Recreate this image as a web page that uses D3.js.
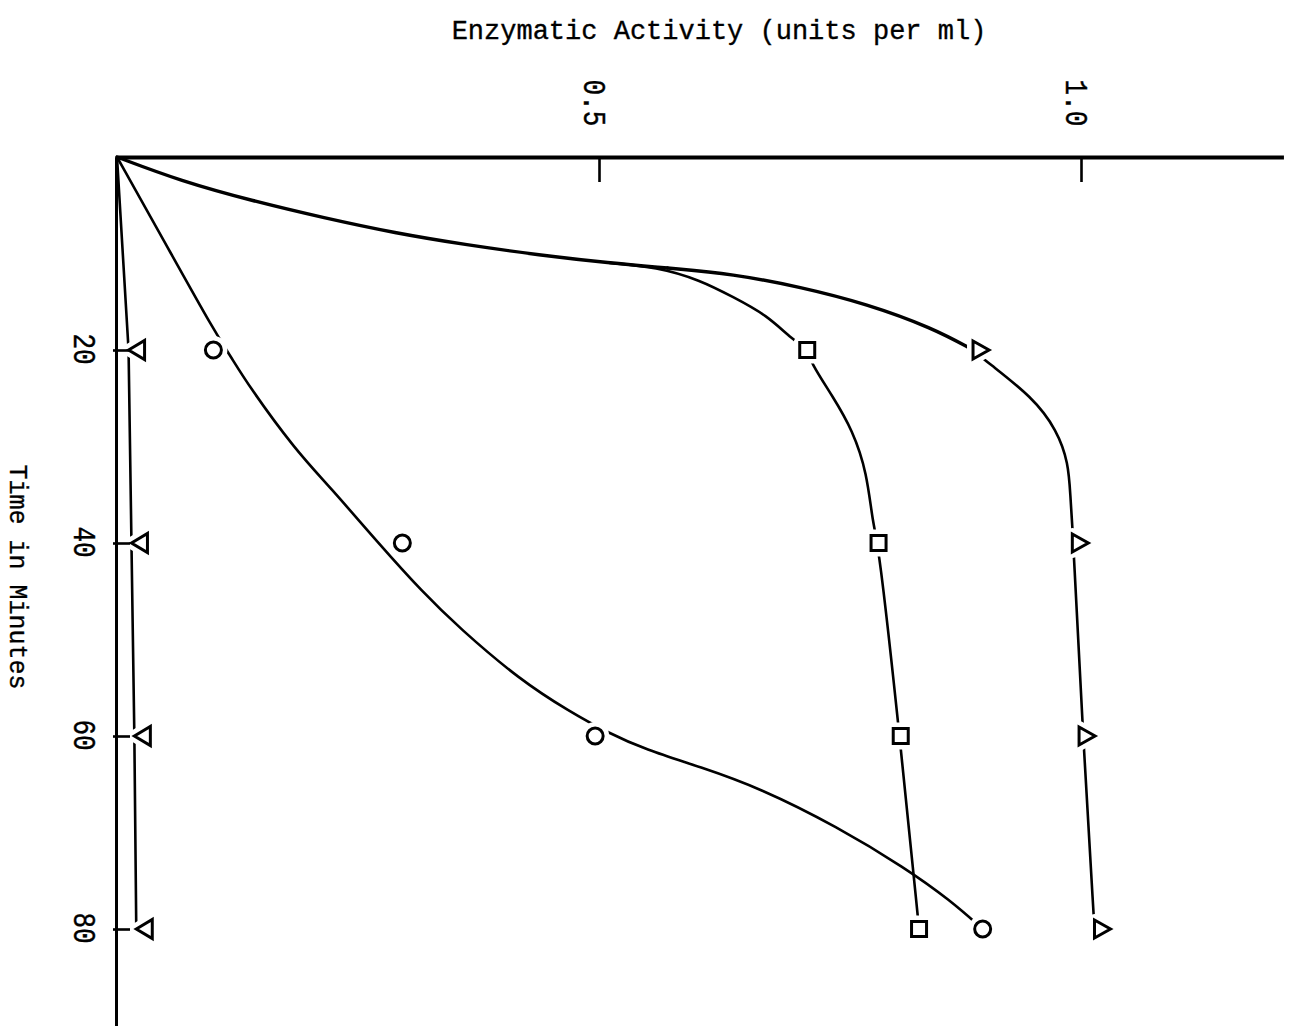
<!DOCTYPE html>
<html>
<head>
<meta charset="utf-8">
<script src="https://cdn.jsdelivr.net/npm/d3@7"></script>
<style>
  html, body { margin: 0; padding: 0; background: #fff; }
  svg { display: block; background: #fff; }
  text { font-family: "Liberation Mono", "DejaVu Sans Mono", monospace; fill: #000; stroke: #000; stroke-width: 0.35; }
</style>
</head>
<body>
<svg id="chart" width="1289" height="1029"></svg>
<script>
// ---- data ----------------------------------------------------------------
const timeTicks = [20, 40, 60, 80];            // minutes
const activityTicks = [0.5, 1.0];              // units per ml
const sampleTimes = [20, 40, 60, 80];

const circleValues = [0.100, 0.296, 0.496, 0.898];
const squareValues = [0.716, 0.790, 0.813, 0.832];
const triangleValues = [0.888, 0.991, 0.998, 1.014];
const invertedTriangleValues = [0.012, 0.015, 0.018, 0.020];

// hand-drawn guide curves, [minutes, activity]
const sharedRise = [[0, 0], [2.49, 0.066], [4.56, 0.141], [6.32, 0.215], [7.88, 0.288],
  [9.12, 0.363], [10.16, 0.438], [10.98, 0.511], [11.5, 0.571]];
const triangleBranch = [[11.5, 0.571], [12.12, 0.639], [13.47, 0.709], [15.23, 0.778],
  [17.72, 0.846], [20.0, 0.888]];
const triangleTail = [[20.0, 0.888], [21.2, 0.902], [24.9, 0.950], [28.3, 0.975],
  [31.7, 0.987], [35.2, 0.989], [38.3, 0.991], [40, 0.992], [60, 1.002], [80, 1.014]];
const squareBranch = [[10.98, 0.511], [11.4, 0.560], [12.75, 0.605], [14.51, 0.639],
  [16.37, 0.674], [18.96, 0.701], [19.8, 0.716], [21.2, 0.719], [24.9, 0.743],
  [28.3, 0.763], [32.7, 0.778], [38.1, 0.784], [40, 0.790], [60, 0.812], [80, 0.832]];
const circleCurve = [[0, 0], [9.1, 0.051], [18.24, 0.102], [20.5, 0.117], [23.63, 0.136],
  [30.36, 0.185], [34.2, 0.221], [40.0, 0.271], [45.1, 0.317], [48.8, 0.355],
  [54.2, 0.418], [57.5, 0.470], [59.6, 0.508], [61.45, 0.549], [63.2, 0.605],
  [65.4, 0.667], [69.4, 0.747], [73.7, 0.818], [77.0, 0.864], [80, 0.898]];

// ---- layout: time runs down the page, activity runs to the right ----------
const svg = d3.select("#chart");
const x = d3.scaleLinear().domain([0, 1.21]).range([117, 117 + 1.21 * 964]);
const y = d3.scaleLinear().domain([0, 90]).range([157, 157 + 90 * 9.65]);

const smooth = d3.line().x(d => x(d[1])).y(d => y(d[0])).curve(d3.curveBasis);
const straight = d3.line().x(d => x(d[1])).y(d => y(d[0]));

// guide curves
const curves = svg.append("g").attr("fill", "none").attr("stroke", "#000")
  .attr("stroke-linecap", "round").attr("stroke-linejoin", "round");
curves.append("path").attr("d", smooth(sharedRise)).attr("stroke-width", 3.4);
curves.append("path").attr("d", smooth(triangleBranch)).attr("stroke-width", 3.4);
curves.append("path").attr("d", smooth(triangleTail)).attr("stroke-width", 2.6);
curves.append("path").attr("d", smooth(squareBranch)).attr("stroke-width", 2.6);
curves.append("path").attr("d", smooth(circleCurve)).attr("stroke-width", 2.6);
const invPts = [[0, 0]].concat(sampleTimes.map((t, i) => [t, invertedTriangleValues[i]]));
curves.append("path").attr("d", straight(invPts)).attr("stroke-width", 2.6);

// marker shapes
const shapes = {
  circle: (px, py) => { const p = d3.path(); p.moveTo(px + 8, py); p.arc(px, py, 8, 0, 2 * Math.PI); p.closePath(); return p.toString(); },
  square: (px, py) => `M${px - 7.5},${py - 7.5}h15v15h-15Z`,
  triangle: (px, py) => `M${px},${py - 9}L${px + 16},${py}L${px},${py + 9}Z`,
  inverted: (px, py) => `M${px},${py}L${px + 16},${py - 9.5}L${px + 16},${py + 9.5}Z`
};
const series = [
  { shape: "circle", values: circleValues },
  { shape: "square", values: squareValues },
  { shape: "triangle", values: triangleValues },
  { shape: "inverted", values: invertedTriangleValues }
];
const markerData = series.flatMap(s => sampleTimes.map((t, i) => ({ shape: s.shape, t, v: s.values[i] })));

// white halos leave small gaps where the curves meet the symbols
svg.append("g").selectAll("path").data(markerData).join("path")
  .attr("d", d => shapes[d.shape](x(d.v), y(d.t)))
  .attr("fill", "#fff").attr("stroke", "#fff").attr("stroke-width", 12)
  .attr("stroke-linejoin", "round");

// activity axis along the top
const xAxis = svg.append("g").attr("transform", `translate(0,${y(0)})`)
  .call(d3.axisBottom(x).tickValues(activityTicks).tickSize(25).tickSizeOuter(0).tickFormat(""));
xAxis.select(".domain").attr("stroke", "#000").attr("stroke-width", 4);
xAxis.selectAll(".tick line").attr("stroke", "#000").attr("stroke-width", 2.6);

// time axis down the left
const yAxis = svg.append("g").attr("transform", `translate(${x(0) - 1},0)`)
  .call(d3.axisRight(y).tickValues(timeTicks).tickSize(14).tickSizeOuter(0).tickFormat(""));
yAxis.select(".domain").attr("stroke", "#000").attr("stroke-width", 3);
yAxis.selectAll(".tick line").attr("x1", -3).attr("stroke", "#000").attr("stroke-width", 2.6);

// symbols
svg.append("g").selectAll("path").data(markerData).join("path")
  .attr("d", d => shapes[d.shape](x(d.v), y(d.t)))
  .attr("fill", "#fff").attr("stroke", "#000").attr("stroke-width", 3)
  .attr("stroke-linejoin", "miter");

// tick labels, typed sideways with tall typewriter digits
svg.append("g").selectAll("text").data(activityTicks).join("text")
  .attr("transform", d => `translate(${x(d) - 15.5},103) rotate(90) scale(1,1.2)`)
  .attr("text-anchor", "middle").attr("font-size", 26)
  .text(d => d.toFixed(1));

svg.append("g").selectAll("text").data(timeTicks).join("text")
  .attr("transform", d => `translate(74,${y(d) - 1}) rotate(90) scale(1,1.2)`)
  .attr("text-anchor", "middle").attr("font-size", 26)
  .text(d => d);

// axis titles
svg.append("text").attr("x", 719).attr("y", 39).attr("text-anchor", "middle")
  .attr("font-size", 27).attr("stroke-width", 0.6)
  .text("Enzymatic Activity (units per ml)");

svg.append("text").attr("transform", "translate(10,577) rotate(90)")
  .attr("text-anchor", "middle").attr("font-size", 25)
  .text("Time in Minutes");
</script>
</body>
</html>
